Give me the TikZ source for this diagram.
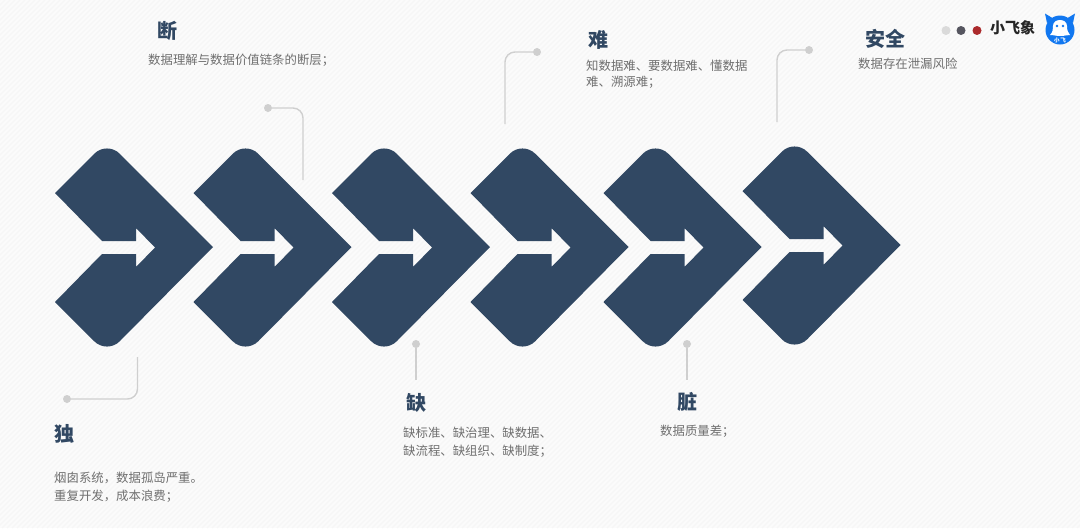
\documentclass[tikz,border=0pt]{standalone}
\usepackage{fontspec}
\setmainfont{Noto Sans CJK SC}
\definecolor{navy}{HTML}{314863}
\definecolor{bgc}{HTML}{FBFBFB}
\definecolor{stripe}{HTML}{F6F6F6}
\definecolor{linec}{HTML}{CFCFCF}
\definecolor{bodyc}{HTML}{6F6F6F}
\definecolor{logob}{HTML}{1177F0}
\definecolor{dota}{HTML}{DADADA}
\definecolor{dotb}{HTML}{55555F}
\definecolor{dotc}{HTML}{AB2A2C}
\tikzset{
  x=1pt,y=-1pt,
  heading/.style={font=\fontsize{20}{24}\selectfont\bfseries,text=navy,inner sep=0pt,anchor=center},
  bodytext/.style={font=\fontsize{12.4}{18}\selectfont,text=bodyc,inner sep=0pt,align=left,anchor=north west},
  leader/.style={draw=linec,line width=1.4pt,rounded corners=10pt},
  dotn/.style={circle,fill=linec,inner sep=0pt,minimum size=8pt},
  topdot/.style={circle,inner sep=0pt,minimum size=9pt},
}
\newcommand{\chev}[2]{% x offset, y offset
  \fill[navy,shift={(#1,#2)}]
    (0,0) -- (39.3,-39.3) .. controls (46.3,-46.3) and (57.7,-46.3) .. (64.7,-39.3)
    -- (158,54) -- (64.7,148.3) .. controls (57.7,155.3) and (46.3,155.3) .. (39.3,148.3)
    -- (0,109) -- (47,61) -- (81,61) -- (81,74) -- (100,54.5) -- (81,35) -- (81,48) -- (47,48) -- cycle;
}
\begin{document}
\begin{tikzpicture}
\useasboundingbox (0,0) rectangle (1080,528);
\fill[bgc] (0,0) rectangle (1080,528);
\begin{scope}
\clip (0,0) rectangle (1080,528);
\foreach \i in {0,5,...,1610} {\draw[stripe,line width=1.2pt] (\i,0) -- (\i-528,528);}
\end{scope}
\chev{55}{193}
\chev{193.5}{193}
\chev{332}{193}
\chev{470.5}{193}
\chev{603.5}{193}
\chev{742.5}{191}

\node[dotn] (d1) at (67,399) {};
\coordinate (e1) at (137.5,357);
\draw[leader] (d1) -- (137.5,399) -- (e1);
\node[dotn] (d2) at (268,108) {};
\coordinate (e2) at (303,180);
\draw[leader] (d2) -- (303,108) -- (e2);
\node[dotn] (d3) at (416,344) {};
\coordinate (e3) at (416,380);
\draw[leader] (d3) -- (e3);
\node[dotn] (d4) at (537,52) {};
\coordinate (e4) at (505,124);
\draw[leader] (d4) -- (505,52) -- (e4);
\node[dotn] (d5) at (687,344) {};
\coordinate (e5) at (687,380);
\draw[leader] (d5) -- (e5);
\node[dotn] (d6) at (809,50) {};
\coordinate (e6) at (777,122);
\draw[leader] (d6) -- (777,50) -- (e6);

\node[heading] (h1) at (64,434) {独};
\node[bodytext] (t1) at (54,471.5) {烟囱系统，数据孤岛严重。\\重复开发，成本浪费；};
\node[heading] (h2) at (167,31) {断};
\node[bodytext] (t2) at (148,53.5) {数据理解与数据价值链条的断层；};
\node[heading] (h3) at (416,403) {缺};
\node[bodytext] (t3) at (403,427) {缺标准、缺治理、缺数据、\\缺流程、缺组织、缺制度；};
\node[heading] (h4) at (598,40) {难};
\node[bodytext,font=\fontsize{12.4}{16}\selectfont] (t4) at (586,60) {知数据难、要数据难、懂数据\\难、溯源难；};
\node[heading] (h5) at (687,402) {脏};
\node[bodytext] (t5) at (660,425) {数据质量差；};
\node[heading] (h6) at (885,39) {安全};
\node[bodytext] (t6) at (858,58) {数据存在泄漏风险};

\node[topdot,fill=dota] (m1) at (946,30.5) {};
\node[topdot,fill=dotb] (m2) at (961,30.5) {};
\node[topdot,fill=dotc] (m3) at (977,30.5) {};
\node[font=\fontsize{15}{18}\selectfont\bfseries,text=black!85,inner sep=0pt] (brand) at (1012.5,28) {小飞象};

\fill[logob] (1060,30) circle (14.5);
\fill[logob] (1047,23) -- (1045,13.5) -- (1054,19) -- cycle;
\fill[logob] (1073,23) -- (1075,13.5) -- (1066,19) -- cycle;
\fill[white] (1050,35) .. controls (1053,32) and (1053,29) .. (1053,26)
  .. controls (1053,18) and (1067,18) .. (1067,26)
  .. controls (1067,30) and (1068,33) .. (1070,35)
  .. controls (1066,35) and (1065,36) .. (1060,36)
  .. controls (1056,36) and (1054,35) .. (1050,35) -- cycle;
\fill[logob] (1057,26) circle (1.3) (1063,26) circle (1.3);
\node[font=\fontsize{5.5}{6}\selectfont\bfseries,text=white,inner sep=0pt] (logotext) at (1060,40) {小\,飞};
\end{tikzpicture}
\end{document}
